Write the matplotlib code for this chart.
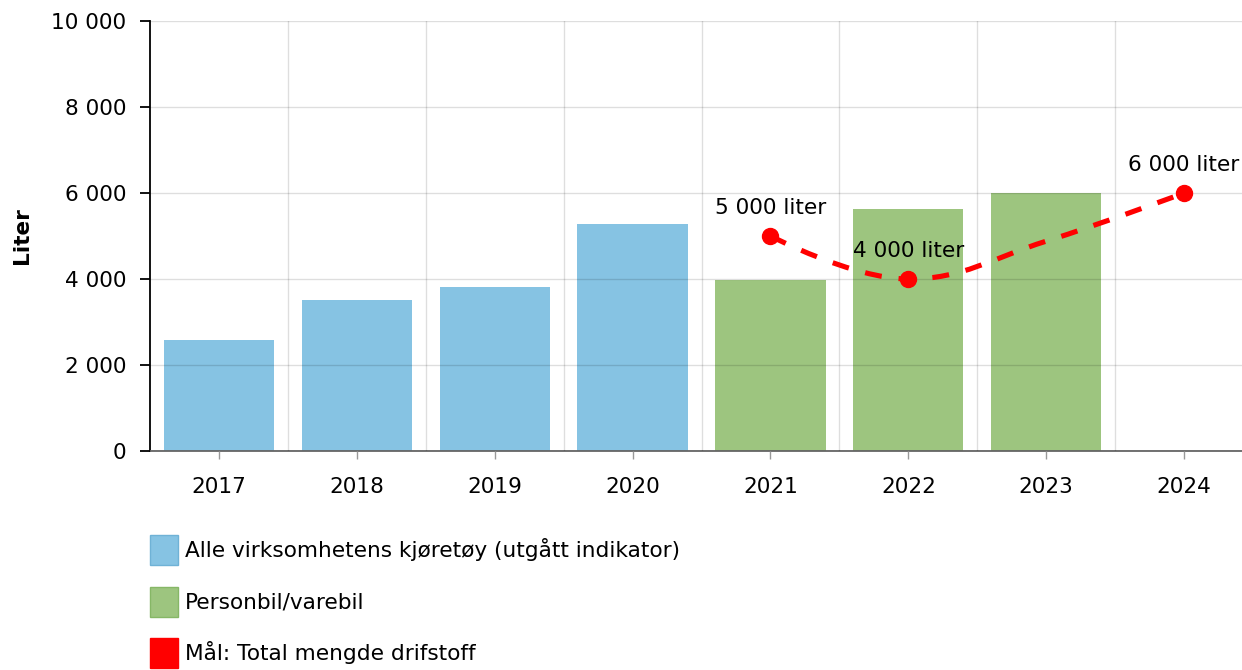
import matplotlib
matplotlib.use("Agg")
import matplotlib.pyplot as plt
from matplotlib.patches import Patch, PathPatch
from matplotlib.path import Path
from matplotlib.ticker import FuncFormatter, FixedLocator

years = ["2017", "2018", "2019", "2020", "2021", "2022", "2023", "2024"]

alle_years = ["2017", "2018", "2019", "2020"]
alle_values = [2580, 3510, 3810, 5280]

personbil_years = ["2021", "2022", "2023"]
personbil_values = [3980, 5630, 6000]

# target line (2023 has no marker/label in the chart)
target_years = ["2021", "2022", "2023", "2024"]
target_values = [5000, 4000, 4880, 6000]
marked_years = ["2021", "2022", "2024"]
marked_labels = ["5 000 liter", "4 000 liter", "6 000 liter"]

legend_labels = ["Alle virksomhetens kjøretøy (utgått indikator)",
                 "Personbil/varebil",
                 "Mål: Total mengde drifstoff"]

BLUE = "#86c3e3"
GREEN = "#9dc57f"
RED = "#ff0000"
FS = 15.6


def spline_path(xs, ys, smoothing=1.5):
    # bezier control points, same recipe as a "spline" series
    n = len(xs)
    left = [None] * n
    right = [None] * n
    for i in range(1, n - 1):
        x, y = xs[i], ys[i]
        lx, ly = xs[i - 1], ys[i - 1]
        nx, ny = xs[i + 1], ys[i + 1]
        d = smoothing + 1
        lcx, lcy = (smoothing * x + lx) / d, (smoothing * y + ly) / d
        rcx, rcy = (smoothing * x + nx) / d, (smoothing * y + ny) / d
        corr = ((rcy - lcy) * (rcx - x)) / (rcx - lcx) + y - rcy
        lcy += corr
        rcy += corr
        if lcy > ly and lcy > y:
            lcy = max(ly, y)
            rcy = 2 * y - lcy
        elif lcy < ly and lcy < y:
            lcy = min(ly, y)
            rcy = 2 * y - lcy
        if rcy > ny and rcy > y:
            rcy = max(ny, y)
            lcy = 2 * y - rcy
        elif rcy < ny and rcy < y:
            rcy = min(ny, y)
            lcy = 2 * y - rcy
        left[i] = (lcx, lcy)
        right[i] = (rcx, rcy)
    verts = [(xs[0], ys[0])]
    codes = [Path.MOVETO]
    for i in range(1, n):
        c1 = right[i - 1] or (xs[i - 1], ys[i - 1])
        c2 = left[i] or (xs[i], ys[i])
        verts += [c1, c2, (xs[i], ys[i])]
        codes += [Path.CURVE4] * 3
    return Path(verts, codes)


fig = plt.figure(figsize=(12.42, 6.70), dpi=100)
ax = fig.add_axes([150 / 1242, 1 - 451 / 670, 1092 / 1242, 430 / 670])

pos = {y: i for i, y in enumerate(years)}

ax.bar([pos[y] for y in alle_years], alle_values, width=0.8, color=BLUE, zorder=1)
ax.bar([pos[y] for y in personbil_years], personbil_values, width=0.8, color=GREEN, zorder=1)

tx = [pos[y] for y in target_years]
path = spline_path(tx, target_values)
ax.add_patch(PathPatch(path, fill=False, edgecolor=RED, lw=3.7,
                       linestyle=(0, (3.3, 3.3)), capstyle="butt", zorder=5))
mx = [pos[y] for y in marked_years]
mv = [target_values[target_years.index(y)] for y in marked_years]
ax.plot(mx, mv, "o", color=RED, markersize=11.5, zorder=6)
for x, v, lab in zip(mx, mv, marked_labels):
    ax.annotate(lab, (x, v), xytext=(0, 20.5), textcoords="offset points",
                ha="center", va="center", fontsize=FS, zorder=7)

ax.set_xlim(-0.5, 7.42)
ax.set_ylim(0, 10000)
ax.set_yticks(range(0, 10001, 2000))
ax.yaxis.set_major_formatter(FuncFormatter(lambda v, p: f"{int(v):,}".replace(",", " ")))
ax.set_xticks(range(len(years)))
ax.set_xticklabels(years)
ax.xaxis.set_minor_locator(FixedLocator([i + 0.5 for i in range(len(years) - 1)]))

ax.grid(axis="y", which="major", color="black", alpha=0.13, lw=1)
ax.grid(axis="x", which="minor", color="black", alpha=0.13, lw=1)
ax.set_axisbelow(False)

for s in ("top", "right"):
    ax.spines[s].set_visible(False)
ax.spines["left"].set_color("black")
ax.spines["left"].set_linewidth(1.3)
ax.spines["bottom"].set_color("#666666")
ax.spines["bottom"].set_linewidth(1.3)

ax.tick_params(axis="y", length=7, width=1.3, color="black", pad=10, labelsize=FS)
ax.tick_params(axis="x", which="major", length=6, width=1, color="#999999", pad=13, labelsize=FS)
ax.tick_params(axis="x", which="minor", length=0)

ax.set_ylabel("Liter", fontsize=FS, fontweight="bold")
ax.yaxis.set_label_coords(-0.108, 0.5)

handles = [Patch(facecolor=BLUE, edgecolor="#6fb2d6"),
           Patch(facecolor=GREEN, edgecolor="#86b766"),
           Patch(facecolor=RED, edgecolor=RED)]
fig.legend(handles, legend_labels, loc="upper left",
           bbox_to_anchor=(150 / 1242, 1 - 535 / 670), frameon=False,
           fontsize=FS, handlelength=1.3, handleheight=1.75, handletextpad=0.3,
           labelspacing=1.0, borderpad=0, borderaxespad=0)

fig.savefig("out.png", dpi=100)
